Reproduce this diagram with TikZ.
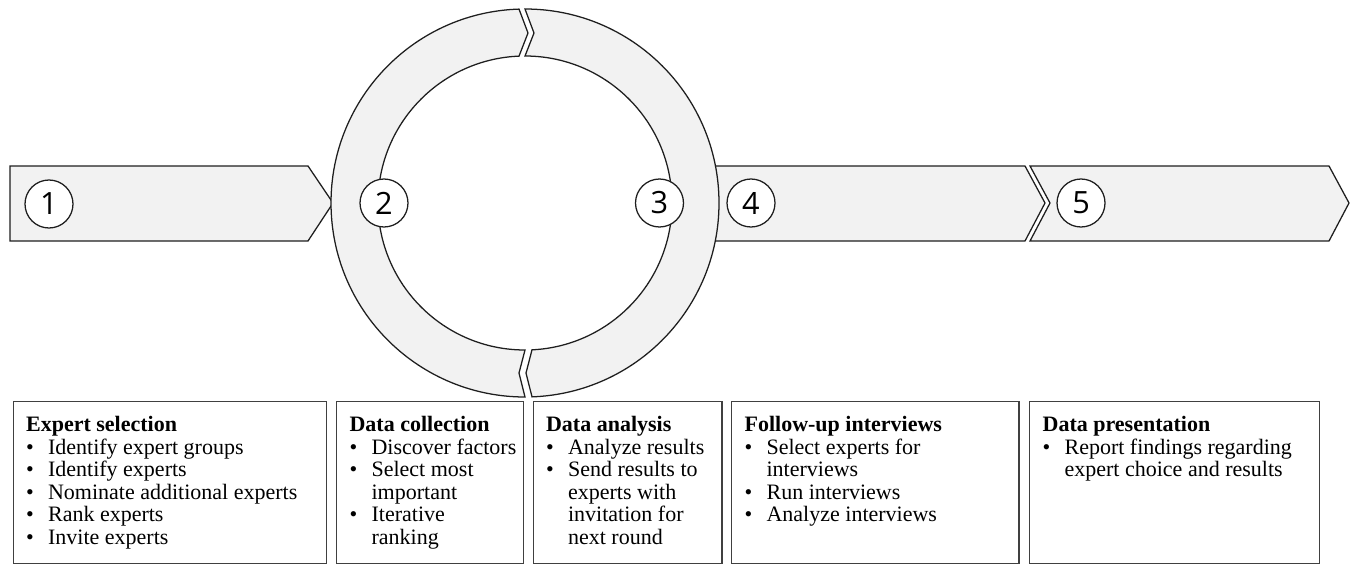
\documentclass[tikz,border=0pt]{standalone}
\usepackage{fontspec}
\setmainfont{Liberation Serif}
\newfontfamily\numfamily{Open Sans}
\usetikzlibrary{positioning}
\definecolor{stagefill}{HTML}{F2F2F2}
\definecolor{stageline}{HTML}{1E1E1E}
\definecolor{boxline}{HTML}{404040}
\newcommand{\bit}{\makebox[16.5pt][l]{\textbullet}}
\newcommand{\cont}{\hspace*{16.5pt}}
\begin{document}
\begin{tikzpicture}[x=0.75pt,y=-0.75pt]
    \tikzstyle{stage}=[draw=stageline,fill=stagefill,line width=0.95pt,line join=miter];
    \tikzstyle{num}=[draw=stageline,fill=white,shape=circle,line width=0.95pt,minimum size=36pt,inner sep=0pt,font=\numfamily\fontsize{23}{23}\selectfont];
    \tikzstyle{infobox}=[draw=boxline,line width=1.1pt,anchor=north west,inner sep=0pt,minimum height=121.5pt];
    \tikzstyle{infotext}=[anchor=north west,align=left,inner sep=0pt,font=\fontsize{16.5}{16.9}\selectfont];
    \useasboundingbox (0,0) rectangle (1351,564);
    % straight stages
    \draw[stage] (10,166) -- (308,166) -- (333,203) -- (308,241) -- (10,241) -- cycle;
    \draw[stage] (690,166) -- (1025,166) -- (1045,203) -- (1025,241) -- (690,241) -- cycle;
    \draw[stage] (1030,166) -- (1329,166) -- (1349,203) -- (1329,241) -- (1030,241) -- (1050,203) -- cycle;
    % ring, two halves
    \coordinate (c) at (525,203);
    \draw[stage] ([shift={(-91.77:194)}]c) arc[start angle=-91.77,end angle=-270,radius=194]
    -- (519,373) -- ([shift={(-270:147)}]c) arc[start angle=-270,end angle=-92.34,radius=147]
    -- (528,33) -- cycle;
    \draw[stage] ([shift={(-90:194)}]c) arc[start angle=-90,end angle=87.93,radius=194]
    -- (526,373) -- ([shift={(87.27:147)}]c) arc[start angle=87.27,end angle=-90,radius=147]
    -- (534,33) -- cycle;
    % numbers
    \node[num] (n1) at (49,204) {1};
    \node[num] (n2) at (384,203) {2};
    \node[num] (n3) at (659.5,203) {3};
    \node[num] (n4) at (751,203) {4};
    \node[num] (n5) at (1081,203) {5};
    % boxes
    \node[infobox,minimum width=235.1pt] (b1) at (12.5,401) {};
    \node[infobox,minimum width=139.9pt] (b2) at (336,401) {};
    \node[infobox,minimum width=141.4pt] (b3) at (532.5,401) {};
    \node[infobox,minimum width=215.6pt] (b4) at (731,401) {};
    \node[infobox,minimum width=217.5pt] (b5) at (1029,401) {};
    \node[infotext] (t1) at ([xshift=10pt,yshift=-11.25pt]b1.north west)
    {\textbf{Expert selection}\\ \bit Identify expert groups\\ \bit Identify experts\\
    \bit Nominate additional experts\\ \bit Rank experts\\ \bit Invite experts};
    \node[infotext] (t2) at ([xshift=10pt,yshift=-11.25pt]b2.north west)
    {\textbf{Data collection}\\ \bit Discover factors\\ \bit Select most\\ \cont important\\
    \bit Iterative\\ \cont ranking};
    \node[infotext] (t3) at ([xshift=10pt,yshift=-11.25pt]b3.north west)
    {\textbf{Data analysis}\\ \bit Analyze results\\ \bit Send results to\\ \cont experts with\\
    \cont invitation for\\ \cont next round};
    \node[infotext] (t4) at ([xshift=10pt,yshift=-11.25pt]b4.north west)
    {\textbf{Follow-up interviews}\\ \bit Select experts for\\ \cont interviews\\
    \bit Run interviews\\ \bit Analyze interviews};
    \node[infotext] (t5) at ([xshift=10pt,yshift=-11.25pt]b5.north west)
    {\textbf{Data presentation}\\ \bit Report findings regarding\\ \cont expert choice and results};
\end{tikzpicture}
\end{document}
